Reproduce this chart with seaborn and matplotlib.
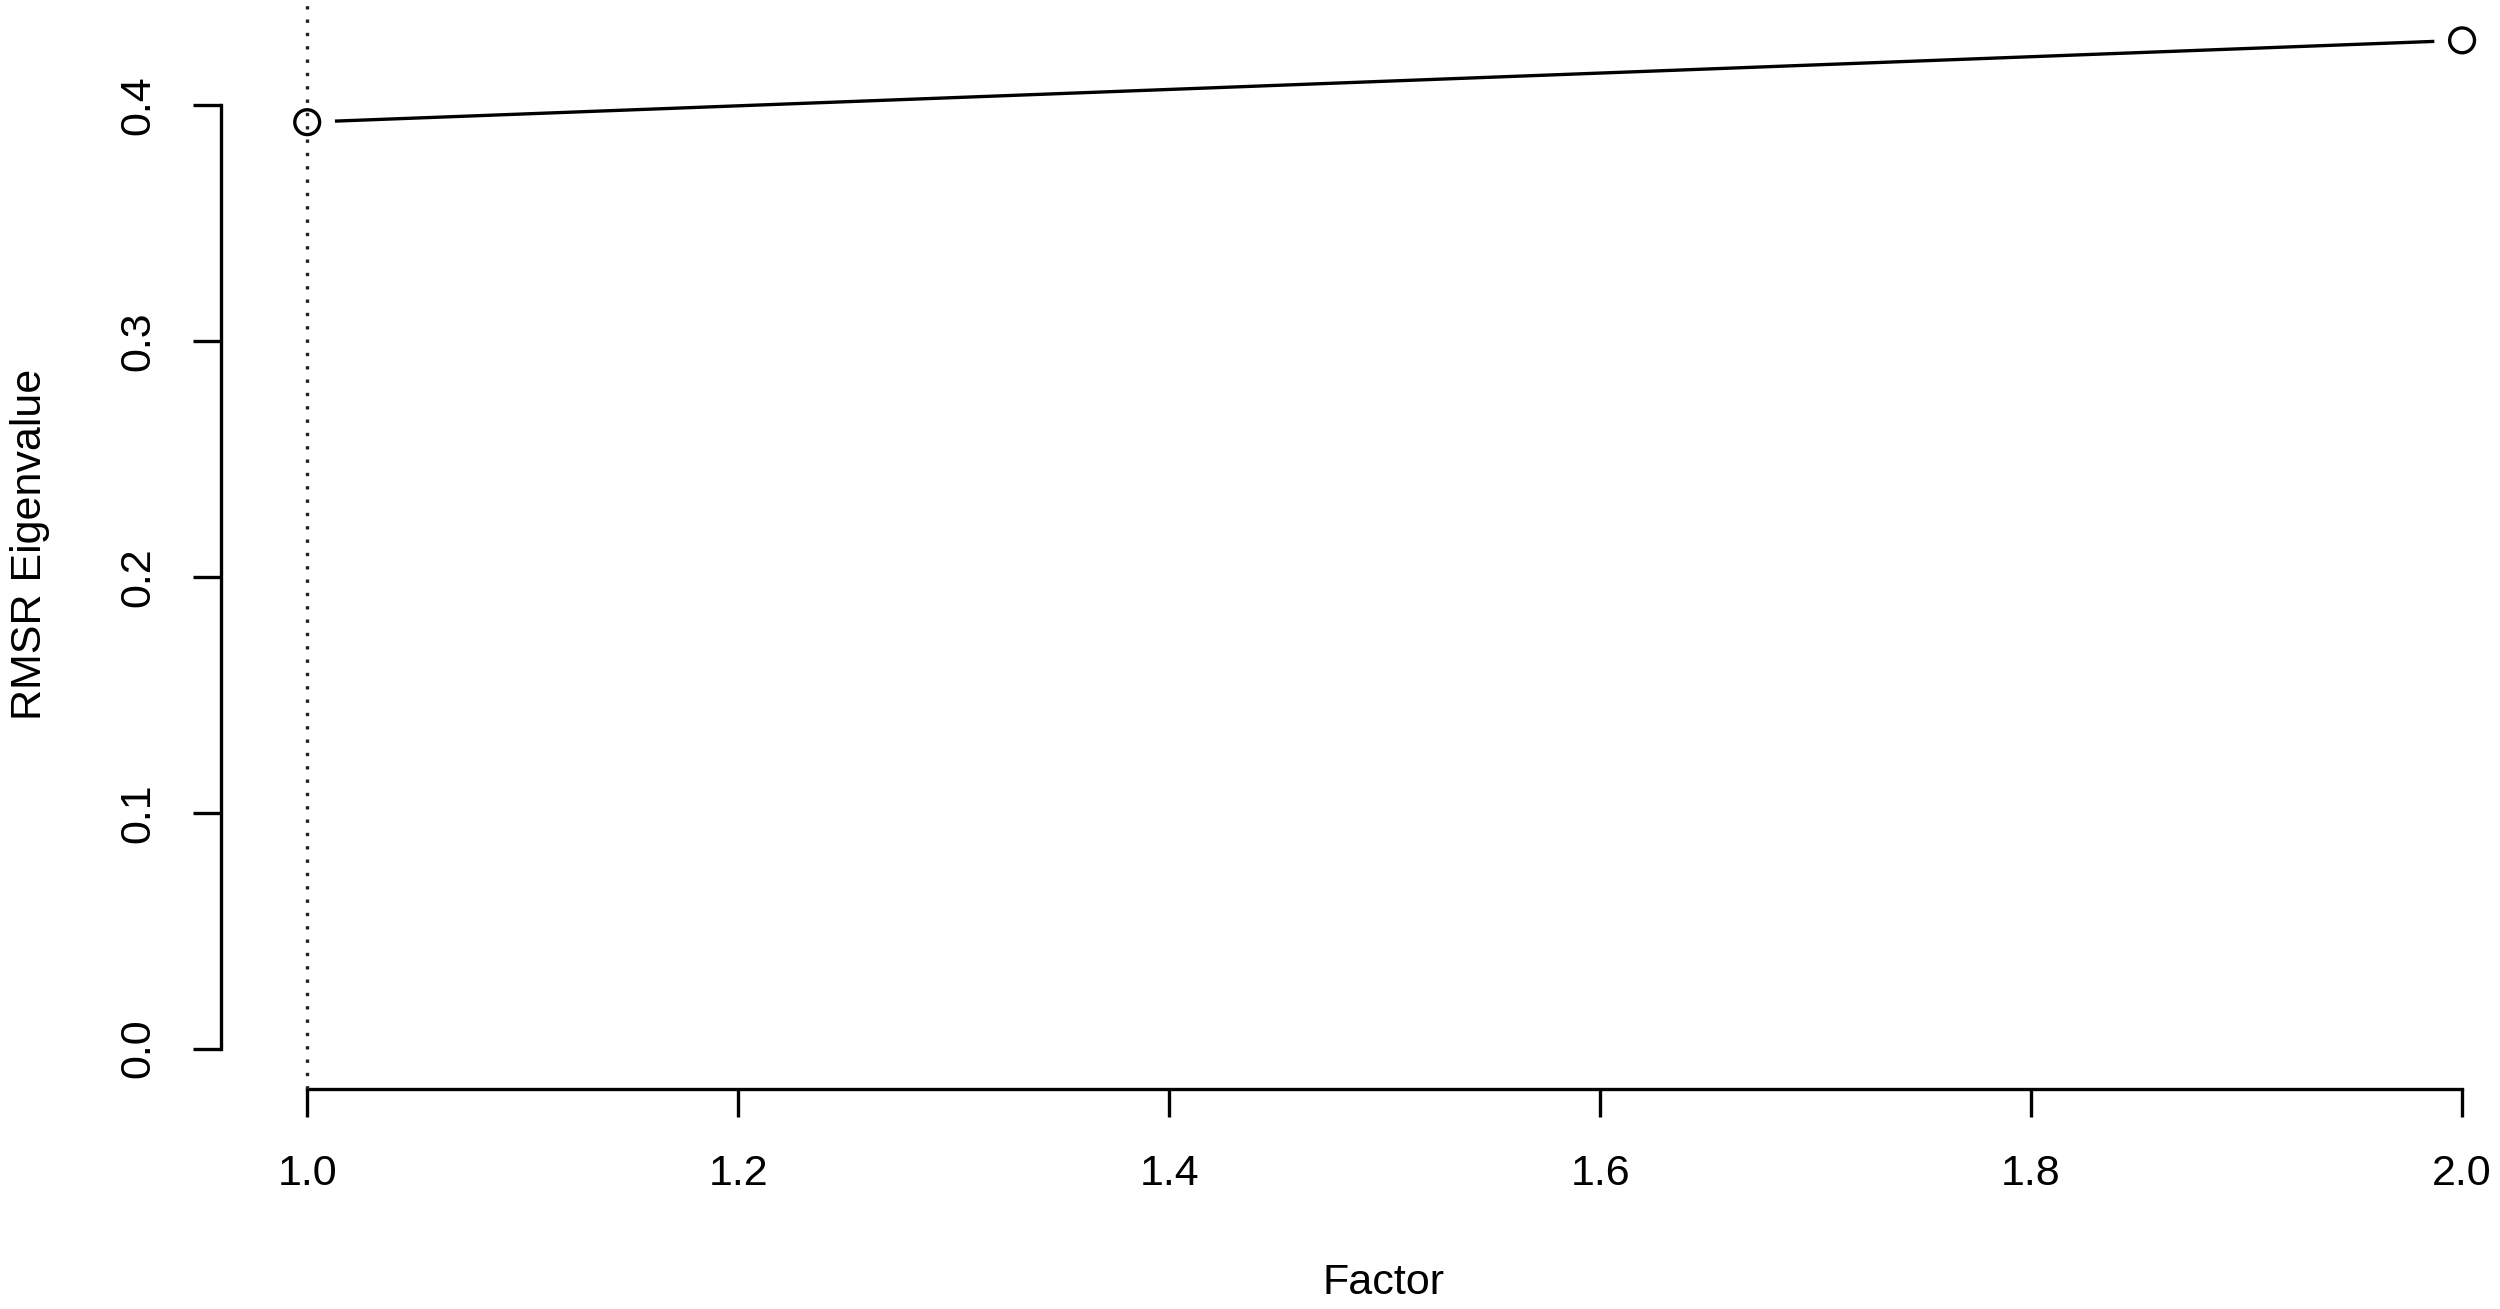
import matplotlib
matplotlib.use("Agg")
import matplotlib.pyplot as plt
import seaborn as sns
import pandas as pd

# values
factor = [1.0, 2.0]
rmsr = [0.3928, 0.4275]
x_ticks = [1.0, 1.2, 1.4, 1.6, 1.8, 2.0]
y_ticks = [0.0, 0.1, 0.2, 0.3, 0.4]

df = pd.DataFrame({'Factor': factor, 'RMSR': rmsr})

sns.set_style('ticks')
plt.rcParams['font.family'] = ['Liberation Sans', 'DejaVu Sans']
plt.rcParams['axes.labelcolor'] = 'black'
plt.rcParams['text.color'] = 'black'

W, H, DPI = 2500, 1309, 100
fig = plt.figure(figsize=(W / DPI, H / DPI), dpi=DPI)
# plot region as in R: left edge at x=221px, bottom at y=1089px, cropped top/right
ax = fig.add_axes([221 / W, (H - 1089) / H, (W - 221) / W, 1089 / H])

lw = 2.4
sns.lineplot(data=df, x='Factor', y='RMSR', color='black', linewidth=lw, ax=ax, zorder=1)
# white discs make the gap around the points (R type = "b")
sns.scatterplot(data=df, x='Factor', y='RMSR', s=1600, color='white', edgecolor='none',
                linewidth=0, ax=ax, zorder=2)
ax.axvline(factor[0], color='#222222', linestyle=(0, (1, 3)), linewidth=lw, zorder=3)
sns.scatterplot(data=df, x='Factor', y='RMSR', s=320, facecolor='none', edgecolor='black',
                linewidth=lw, ax=ax, zorder=4)

ax.set_xlim(0.96, 2.0176)
ax.set_ylim(-0.0171, 0.4446)
ax.set_xticks(x_ticks)
ax.set_yticks(y_ticks)
ax.set_xticklabels([f'{v:.1f}' for v in x_ticks])
ax.set_yticklabels([f'{v:.1f}' for v in y_ticks], rotation=90, va='center')

for side in ['top', 'right']:
    ax.spines[side].set_visible(False)
ax.spines['left'].set_bounds(y_ticks[0], y_ticks[-1])
ax.spines['bottom'].set_bounds(x_ticks[0], x_ticks[-1])
for side in ['left', 'bottom']:
    ax.spines[side].set_linewidth(lw)
    ax.spines[side].set_color('black')

ax.tick_params(axis='both', length=20, width=lw, color='black', labelsize=31,
               labelcolor='black')
ax.tick_params(axis='x', pad=27)
ax.tick_params(axis='y', pad=25)

ax.set_xlabel('Factor', fontsize=31, color='black')
ax.set_ylabel('RMSR Eigenvalue', fontsize=31, color='black')
ax.xaxis.set_label_coords((1384 - 221) / (W - 221), -(1283 - 1089) / 1089)
ax.yaxis.set_label_coords(-(221 - 30) / (W - 221), 0.5)
ax.xaxis.label.set_va('center')
ax.yaxis.label.set_va('center')

fig.savefig('out.png', dpi=DPI, facecolor='white')
